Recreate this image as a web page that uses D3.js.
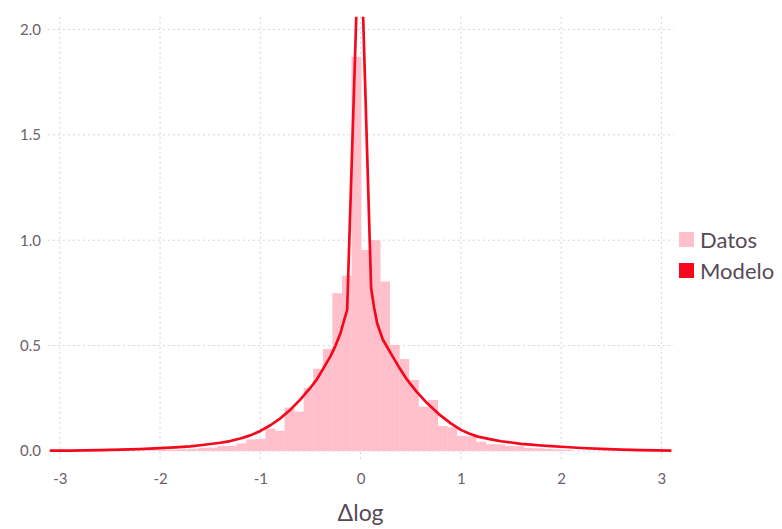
<!DOCTYPE html>
<html>
<head>
<meta charset="utf-8">
<script src="https://cdnjs.cloudflare.com/ajax/libs/d3/7.8.5/d3.min.js"></script>
<style>
  body { margin: 0; background: #fff; }
  svg { display: block; font-family: Lato, "Noto Sans", sans-serif; }
</style>
</head>
<body>
<svg id="chart" width="782" height="529"></svg>
<script>
// Histogram of the data: first bin edge, bin width, bar heights (density)
var binStart = -2.096;
var binWidth = 0.0955;
var datos = [0.004, 0.005, 0.006, 0.008, 0.010, 0.015, 0.016, 0.024, 0.025, 0.036,
             0.055, 0.057, 0.106, 0.096, 0.206, 0.187, 0.298, 0.390, 0.484, 0.749,
             0.832, 1.870, 0.954, 1.000, 0.804, 0.503, 0.436, 0.337, 0.210, 0.242,
             0.119, 0.112, 0.072, 0.070, 0.044, 0.032, 0.031, 0.024, 0.023, 0.015,
             0.013, 0.010, 0.008, 0.006];

// Model curve
var modeloX = [-3.1, -2.9, -2.6, -2.4, -2.2, -2.0, -1.85, -1.7, -1.6, -1.5, -1.4, -1.3, -1.2,
               -1.1, -1.0, -0.9, -0.8, -0.7, -0.6, -0.5, -0.44, -0.38, -0.3, -0.25, -0.2, -0.134,
               -0.008,
               0.105, 0.135, 0.165, 0.22, 0.3, 0.38, 0.465, 0.56, 0.665, 0.78, 0.9, 1.0, 1.08,
               1.17, 1.3, 1.4, 1.5, 1.6, 1.7, 1.8, 1.9, 2.0, 2.2, 2.4, 2.6, 2.8, 3.1];
var modeloY = [0.0015, 0.002, 0.004, 0.006, 0.009, 0.013, 0.017, 0.022, 0.027, 0.033, 0.039, 0.047, 0.059,
               0.074, 0.095, 0.122, 0.155, 0.196, 0.245, 0.30, 0.337, 0.385, 0.45, 0.50, 0.56, 0.67,
               2.6,
               0.772, 0.68, 0.606, 0.53, 0.464, 0.40, 0.337, 0.28, 0.226, 0.175, 0.131, 0.10, 0.083,
               0.068, 0.055, 0.046, 0.040, 0.034, 0.030, 0.026, 0.023, 0.020, 0.014, 0.010, 0.006, 0.004, 0.0015];

// Ticks and labels
var xTicks = [-3, -2, -1, 0, 1, 2, 3];
var yTicks = [0, 0.5, 1.0, 1.5, 2.0];
var legendNames = ["Datos", "Modelo"];
var colors = {Datos: "#ffc0cb", Modelo: "#f5081c"};

var svg = d3.select("#chart");

var x = d3.scaleLinear().domain([-3.12, 3.12]).range([47.8, 673.4]);
var y = d3.scaleLinear().domain([-0.05, 2.06]).range([461.5, 16.8]);

// grid
var grid = svg.append("g").attr("class", "grid");
grid.selectAll("line.v")
  .data(xTicks)
  .enter().append("line")
  .attr("x1", function(d) { return x(d); })
  .attr("x2", function(d) { return x(d); })
  .attr("y1", y.range()[1])
  .attr("y2", y.range()[0])
  .attr("stroke", "#d0d0e0")
  .attr("stroke-width", 1)
  .attr("stroke-dasharray", "2,3");
grid.selectAll("line.h")
  .data(yTicks)
  .enter().append("line")
  .attr("x1", x.range()[0])
  .attr("x2", x.range()[1])
  .attr("y1", function(d) { return y(d); })
  .attr("y2", function(d) { return y(d); })
  .attr("stroke", "#d0d0e0")
  .attr("stroke-width", 1)
  .attr("stroke-dasharray", "2,3");

// clip to plot panel
svg.append("clipPath").attr("id", "panel")
  .append("rect")
  .attr("x", x.range()[0]).attr("y", y.range()[1])
  .attr("width", x.range()[1] - x.range()[0])
  .attr("height", y.range()[0] - y.range()[1]);

var plot = svg.append("g").attr("clip-path", "url(#panel)");

// bars
plot.selectAll("rect.bar")
  .data(datos)
  .enter().append("rect")
  .attr("class", "bar")
  .attr("x", function(d, i) { return x(binStart + i * binWidth); })
  .attr("width", function(d, i) { return x(binStart + (i + 1) * binWidth) - x(binStart + i * binWidth) + 0.3; })
  .attr("y", function(d) { return y(d); })
  .attr("height", function(d) { return y(0) - y(d); })
  .attr("fill", colors.Datos);

// model line
var line = d3.line()
  .x(function(d) { return x(d[0]); })
  .y(function(d) { return y(d[1]); });

plot.append("path")
  .datum(modeloX.map(function(v, i) { return [v, modeloY[i]]; }))
  .attr("d", line)
  .attr("fill", "none")
  .attr("stroke", colors.Modelo)
  .attr("stroke-width", 2.7)
  .attr("stroke-linejoin", "round");

// axes (labels only, like the original)
var xaxis = d3.axisBottom(x).tickValues(xTicks).tickSize(0).tickPadding(0)
  .tickFormat(function(d) { return String(d); });
var gx = svg.append("g").attr("transform", "translate(0,473)").call(xaxis);
gx.select(".domain").remove();
gx.selectAll("text").attr("fill", "#6c606b").style("font-size", "15px")
  .style("font-family", "Lato, sans-serif");

var yaxis = d3.axisLeft(y).tickValues(yTicks).tickSize(0).tickPadding(0)
  .tickFormat(d3.format(".1f"));
var gy = svg.append("g").attr("transform", "translate(41,0)").call(yaxis);
gy.select(".domain").remove();
gy.selectAll("text").attr("fill", "#6c606b").style("font-size", "15px")
  .style("font-family", "Lato, sans-serif");

// axis title
svg.append("text")
  .attr("x", x(0))
  .attr("y", 521)
  .attr("text-anchor", "middle")
  .attr("fill", "#564a55")
  .style("font-size", "23px")
  .text("Δlog");

// legend
var legend = svg.selectAll("g.legend")
  .data(legendNames)
  .enter().append("g")
  .attr("class", "legend")
  .attr("transform", function(d, i) { return "translate(679," + (232 + i * 31) + ")"; });
legend.append("rect")
  .attr("width", 15).attr("height", 15)
  .attr("fill", function(d) { return colors[d]; });
legend.append("text")
  .attr("x", 21).attr("y", 15.5)
  .attr("fill", "#564a55")
  .style("font-size", "22px")
  .text(function(d) { return d; });
</script>
</body>
</html>
